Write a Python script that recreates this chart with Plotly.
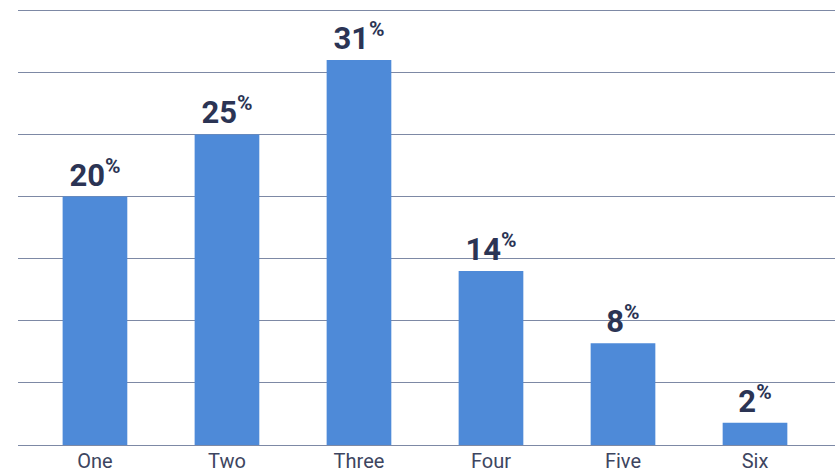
import plotly.graph_objects as go

categories = ["One", "Two", "Three", "Four", "Five", "Six"]
values = [20, 25, 31, 14, 8.2, 1.8]
label_values = [20, 25, 31, 14, 8, 2]
y_ticks = [0, 5, 10, 15, 20, 25, 30, 35]

texts = [f"<b>{v}<sup><span style='font-size:21px'>%</span></sup></b>" for v in label_values]

fig = go.Figure(
    go.Bar(
        x=categories,
        y=values,
        marker=dict(color="#4e8ad8", line=dict(width=0)),
        width=0.49,
        text=texts,
        textposition="outside",
        textfont=dict(family="Roboto", size=31, color="#2b3454"),
        cliponaxis=False,
        hoverinfo="skip",
    )
)

fig.update_layout(
    width=835,
    height=474,
    margin=dict(l=18, r=0, t=6, b=29),
    paper_bgcolor="white",
    plot_bgcolor="white",
    showlegend=False,
)

fig.update_xaxes(
    range=[-0.583, 5.606],
    showgrid=False,
    zeroline=False,
    showline=False,
    ticks="",
    automargin=False,
    ticklabelstandoff=2,
    tickfont=dict(family="Roboto", size=20, color="#3d4560"),
)

fig.update_yaxes(
    range=[0, 35.34],
    tickvals=y_ticks,
    showticklabels=False,
    showgrid=True,
    gridcolor="#7d89a5",
    gridwidth=1,
    zeroline=True,
    zerolinecolor="#7d89a5",
    zerolinewidth=1,
    showline=False,
    ticks="",
    automargin=False,
)

fig.write_html(
    "out.html",
    config={"displayModeBar": False},
    post_script="document.body.style.margin='0';document.body.style.padding='0';",
)
